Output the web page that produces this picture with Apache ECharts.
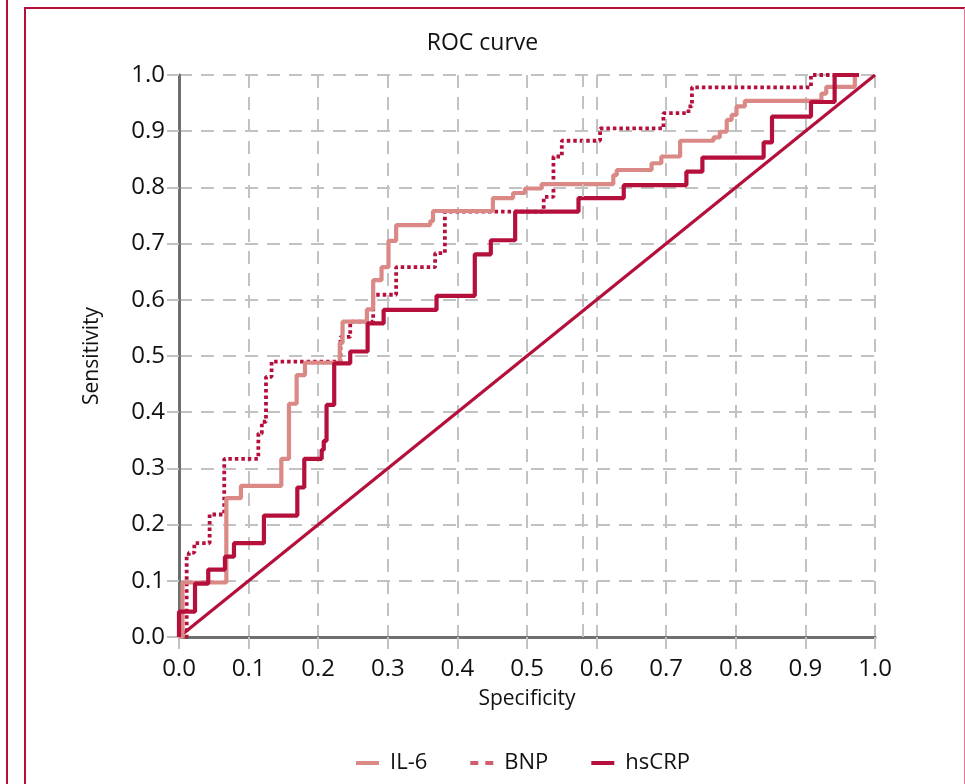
<!DOCTYPE html>
<html>
<head>
<meta charset="utf-8">
<title>ROC curve</title>
<script src="https://cdn.jsdelivr.net/npm/echarts@6/dist/echarts.min.js"></script>
<style>
  html, body { margin: 0; padding: 0; background: #fff; }
  #chart { width: 965px; height: 784px; }
</style>
</head>
<body>
<div id="chart"></div>
<script>
// ─────────────────────────────────────────
// DATA  (points = [1 - specificity, sensitivity])
// ─────────────────────────────────────────
const seriesNames = ['IL-6', 'BNP', 'hsCRP']
const axisTicks = [0, 0.1, 0.2, 0.3, 0.4, 0.5, 0.6, 0.7, 0.8, 0.9, 1.0]

const il6Points = [
  [0, 0], [0.005, 0.097], [0.068, 0.247], [0.089, 0.269], [0.147, 0.317],
  [0.158, 0.415], [0.169, 0.466], [0.181, 0.488], [0.231, 0.523], [0.235, 0.561],
  [0.270, 0.583], [0.279, 0.635], [0.291, 0.658], [0.301, 0.705], [0.312, 0.733],
  [0.361, 0.740], [0.365, 0.758], [0.451, 0.781], [0.480, 0.790], [0.497, 0.798],
  [0.521, 0.806], [0.624, 0.822], [0.629, 0.831], [0.679, 0.843], [0.693, 0.855],
  [0.720, 0.883], [0.768, 0.889], [0.777, 0.899], [0.787, 0.920], [0.794, 0.929],
  [0.801, 0.944], [0.813, 0.954], [0.923, 0.967], [0.930, 0.979], [0.971, 1.0],
  [0.977, 1.0]
]

const bnpPoints = [
  [0, 0], [0.011, 0.143], [0.014, 0.150], [0.022, 0.167], [0.044, 0.218],
  [0.065, 0.317], [0.114, 0.362], [0.119, 0.383], [0.125, 0.463], [0.133, 0.490],
  [0.232, 0.534], [0.246, 0.561], [0.279, 0.609], [0.312, 0.658], [0.368, 0.683],
  [0.382, 0.757], [0.524, 0.783], [0.538, 0.855], [0.550, 0.883], [0.605, 0.905],
  [0.696, 0.932], [0.732, 0.944], [0.737, 0.978], [0.908, 1.0], [0.977, 1.0]
]

const hscrpPoints = [
  [0, 0], [0, 0.045], [0.023, 0.095], [0.042, 0.120], [0.066, 0.143],
  [0.079, 0.167], [0.122, 0.216], [0.170, 0.266], [0.180, 0.317], [0.205, 0.333],
  [0.208, 0.349], [0.212, 0.413], [0.223, 0.487], [0.246, 0.508], [0.271, 0.558],
  [0.294, 0.582], [0.370, 0.607], [0.425, 0.681], [0.448, 0.706], [0.483, 0.757],
  [0.574, 0.781], [0.639, 0.804], [0.729, 0.828], [0.752, 0.853], [0.840, 0.880],
  [0.852, 0.926], [0.908, 0.952], [0.942, 1.0], [0.977, 1.0]
]

const referencePoints = [[0, 0], [1, 1]]
const extraGridX = [0.577]

// ─────────────────────────────────────────
// STYLE TOKENS
// ─────────────────────────────────────────
const CRIMSON = '#b5103c'
const SALMON = '#db8987'
const GRID = '#c2c2c2'
const AXIS = '#6f6f6f'
const FONT = '"Open Sans", "Noto Sans", sans-serif'

const gridLine = { color: GRID, width: 2, type: [13, 9] }

// legend glyphs: a solid bar and a two-dash bar
const ICON_SOLID = 'rect'
const ICON_DASHED = 'path://M0,0H8V4H0Z M15,0H23V4H15Z'

function valueAxis(name, isX) {
  return {
    type: 'value',
    min: 0,
    max: 1,
    interval: 0.1,
    name: name,
    nameLocation: 'middle',
    nameGap: isX ? 52 : 76,
    nameTextStyle: { fontFamily: FONT, fontSize: 21, color: '#111' },
    axisLine: { show: true, onZero: false, lineStyle: { color: AXIS, width: 3 } },
    axisTick: { show: true, inside: false, length: 12, lineStyle: { color: GRID, width: 2 } },
    axisLabel: {
      fontFamily: FONT,
      fontSize: 24,
      color: '#111',
      margin: isX ? 20 : 14,
      formatter: v => v.toFixed(1),
      customValues: axisTicks
    },
    splitLine: { show: true, lineStyle: gridLine }
  }
}

const chart = echarts.init(document.getElementById('chart'), null, { renderer: 'canvas' })

chart.setOption({
  backgroundColor: '#fff',
  animation: false,
  title: {
    text: 'ROC curve',
    left: 'center',
    top: 27,
    textStyle: { fontFamily: FONT, fontSize: 23, fontWeight: 'normal', color: '#111' }
  },
  grid: { left: 179, right: 90, top: 75, bottom: 147, containLabel: false },
  xAxis: valueAxis('Specificity', true),
  yAxis: valueAxis('Sensitivity', false),
  legend: {
    left: 351,
    top: 747,
    itemWidth: 23,
    itemHeight: 4,
    itemGap: 43,
    textStyle: { fontFamily: FONT, fontSize: 22, color: '#111', padding: [0, 0, 0, 6] },
    data: [
      { name: 'IL-6', icon: ICON_SOLID, itemStyle: { color: SALMON } },
      { name: 'BNP', icon: ICON_DASHED, itemStyle: { color: '#cf5d6c' } },
      { name: 'hsCRP', icon: ICON_SOLID, itemStyle: { color: CRIMSON } }
    ]
  },
  graphic: [
    { type: 'line', silent: true, shape: { x1: 7, y1: 0, x2: 7, y2: 784 }, style: { stroke: CRIMSON, lineWidth: 2 } },
    { type: 'polyline', silent: true, shape: { points: [[25, 784], [25, 8], [965, 8]] }, style: { stroke: CRIMSON, lineWidth: 2, fill: null } },
    { type: 'line', silent: true, shape: { x1: 964.5, y1: 8, x2: 964.5, y2: 784 }, style: { stroke: '#e07a98', lineWidth: 1 } }
  ],
  series: [
    {
      name: 'reference',
      type: 'line',
      data: referencePoints,
      symbol: 'none',
      silent: true,
      lineStyle: { color: CRIMSON, width: 3.2 },
      markLine: {
        silent: true,
        symbol: 'none',
        label: { show: false },
        lineStyle: gridLine,
        data: extraGridX.map(x => ({ xAxis: x }))
      },
      z: 1
    },
    {
      name: seriesNames[1],
      type: 'line',
      step: 'end',
      data: bnpPoints,
      symbol: 'none',
      color: CRIMSON,
      lineStyle: { color: CRIMSON, width: 3.8, type: [3.5, 3] },
      z: 2
    },
    {
      name: seriesNames[0],
      type: 'line',
      step: 'end',
      data: il6Points,
      symbol: 'none',
      color: SALMON,
      lineStyle: { color: SALMON, width: 4.2 },
      z: 3
    },
    {
      name: seriesNames[2],
      type: 'line',
      step: 'end',
      data: hscrpPoints,
      symbol: 'none',
      color: CRIMSON,
      lineStyle: { color: CRIMSON, width: 4.2 },
      z: 4
    }
  ]
})
</script>
</body>
</html>
